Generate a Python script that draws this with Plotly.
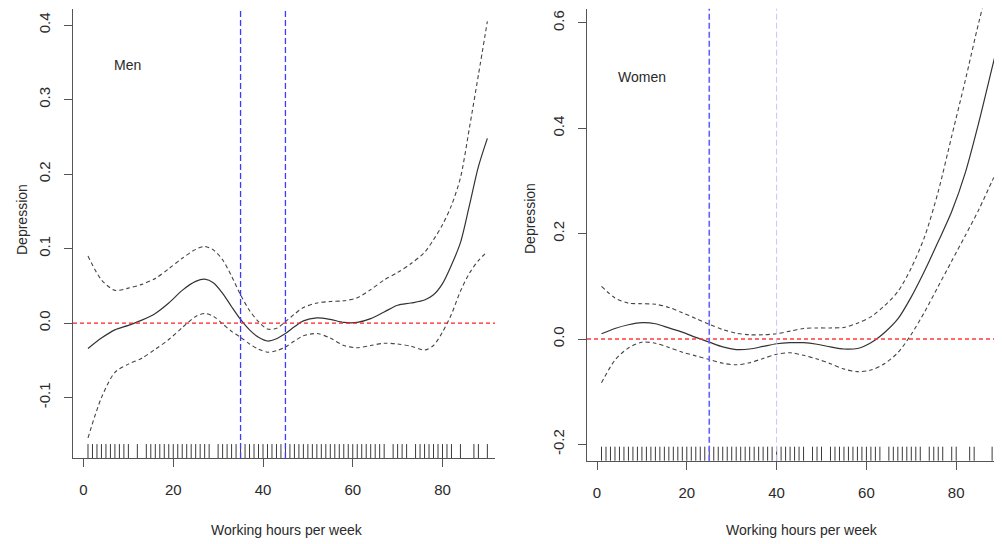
import plotly.graph_objects as go

# ---------------- data ----------------
men_hours = [1, 4, 7, 10, 13, 16, 19, 22, 25, 27, 29, 31, 33, 35, 37, 39, 41, 43, 45, 47,
             49, 52, 55, 58, 61, 64, 67, 70, 73, 76, 78, 80, 82, 84, 86, 88, 90]
men_fit = [-0.034, -0.020, -0.009, -0.003, 0.004, 0.013, 0.027, 0.044, 0.056, 0.059, 0.054,
           0.040, 0.022, 0.005, -0.009, -0.019, -0.024, -0.021, -0.014, -0.005, 0.003, 0.007,
           0.005, 0.001, 0.001, 0.006, 0.015, 0.024, 0.027, 0.031, 0.038, 0.053, 0.078, 0.108,
           0.158, 0.210, 0.248]
men_upper = [0.090, 0.058, 0.044, 0.047, 0.052, 0.060, 0.073, 0.087, 0.099, 0.103, 0.098,
             0.085, 0.063, 0.038, 0.017, 0.002, -0.008, -0.007, 0.002, 0.012, 0.021, 0.027,
             0.029, 0.030, 0.034, 0.045, 0.058, 0.068, 0.080, 0.095, 0.112, 0.132, 0.158, 0.195,
             0.262, 0.333, 0.405]
men_lower = [-0.154, -0.100, -0.066, -0.055, -0.047, -0.035, -0.022, -0.006, 0.009, 0.013,
             0.009, -0.001, -0.011, -0.019, -0.028, -0.035, -0.039, -0.037, -0.032, -0.024,
             -0.017, -0.014, -0.020, -0.030, -0.033, -0.030, -0.027, -0.028, -0.031, -0.036,
             -0.030, -0.012, 0.012, 0.043, 0.067, 0.084, 0.096]
men_rug = [1, 2, 3, 4, 5, 6, 7, 8, 9, 10, 12, 14, 15, 16, 17, 18, 19, 20, 21, 22, 23, 24, 25,
           26, 27, 28, 30, 31, 32, 33, 34, 35, 36, 37, 38, 39, 40, 41, 42, 43, 44, 45, 46, 47,
           48, 49, 50, 51, 52, 53, 54, 55, 56, 57, 58, 59, 60, 61, 62, 63, 64, 65, 66, 67, 69,
           70, 71, 72, 74, 75, 76, 77, 78, 79, 80, 81, 82, 84, 87, 88, 90]
men_cutoffs = [35, 45]

women_hours = [1, 4, 7, 10, 13, 16, 19, 22, 25, 28, 31, 34, 37, 40, 43, 46, 49, 52, 55, 58,
               61, 64, 67, 70, 73, 76, 79, 82, 85, 88, 90]
women_fit = [0.010, 0.020, 0.027, 0.031, 0.029, 0.021, 0.013, 0.003, -0.006, -0.015, -0.020,
             -0.019, -0.014, -0.009, -0.007, -0.007, -0.010, -0.015, -0.019, -0.018, -0.007,
             0.012, 0.038, 0.080, 0.130, 0.185, 0.242, 0.315, 0.410, 0.515, 0.585]
women_upper = [0.100, 0.078, 0.068, 0.067, 0.066, 0.060, 0.050, 0.039, 0.028, 0.018, 0.011,
               0.008, 0.008, 0.010, 0.015, 0.020, 0.021, 0.021, 0.022, 0.030, 0.042, 0.063,
               0.090, 0.135, 0.195, 0.280, 0.385, 0.490, 0.600, 0.700, 0.760]
women_lower = [-0.083, -0.040, -0.017, -0.006, -0.008, -0.016, -0.025, -0.032, -0.039, -0.046,
               -0.049, -0.045, -0.037, -0.029, -0.026, -0.031, -0.038, -0.047, -0.057, -0.062,
               -0.059, -0.047, -0.026, 0.009, 0.052, 0.100, 0.148, 0.196, 0.245, 0.300, 0.336]
women_rug = [1, 2, 3, 4, 5, 6, 7, 8, 9, 10, 11, 12, 13, 14, 15, 16, 17, 18, 19, 20, 21, 22,
             23, 24, 25, 26, 27, 28, 29, 30, 31, 32, 33, 34, 35, 36, 37, 38, 39, 40, 41, 42,
             43, 44, 45, 46, 48, 49, 50, 52, 53, 54, 55, 56, 57, 58, 59, 60, 61, 62, 63, 65,
             66, 67, 68, 69, 70, 71, 72, 74, 75, 76, 77, 79, 80, 83, 84, 88]
women_cutoffs = [25, 40]

x_ticks = [0, 20, 40, 60, 80]
men_y_ticks = [-0.1, 0.0, 0.1, 0.2, 0.3, 0.4]
men_y_labels = ["-0.1", "0.0", "0.1", "0.2", "0.3", "0.4"]
women_y_ticks = [-0.2, 0.0, 0.2, 0.4, 0.6]
women_y_labels = ["-0.2", "0.0", "0.2", "0.4", "0.6"]

# ---------------- layout geometry ----------------
# The page body has an 8px margin, so the figure is drawn at (8, 8) of the window.
OFF = 8
W, H = 1002 - OFF, 544 - OFF


def px_x(p):
    return (p - OFF) / W


def px_y(p):
    return 1 - (p - OFF) / H


# ---------------- styling ----------------
FONT = "Liberation Sans, Arial, sans-serif"
TXT = "#2a2a2a"
AX = "#555555"
fit_line = dict(color="#333333", width=1.2)
ci_line = dict(color="#444444", width=1.1, dash="4px,3px")

fig = go.Figure()

for xa, ya, hrs, fit, up, lo in [("x", "y", men_hours, men_fit, men_upper, men_lower),
                                 ("x2", "y2", women_hours, women_fit, women_upper, women_lower)]:
    fig.add_trace(go.Scatter(x=hrs, y=up, mode="lines", line=ci_line, line_shape="spline",
                             line_smoothing=0.8, xaxis=xa, yaxis=ya, showlegend=False,
                             hoverinfo="skip"))
    fig.add_trace(go.Scatter(x=hrs, y=lo, mode="lines", line=ci_line, line_shape="spline",
                             line_smoothing=0.8, xaxis=xa, yaxis=ya, showlegend=False,
                             hoverinfo="skip"))
    fig.add_trace(go.Scatter(x=hrs, y=fit, mode="lines", line=fit_line, line_shape="spline",
                             line_smoothing=0.8, xaxis=xa, yaxis=ya, showlegend=False))

shapes = []
# rugs
for xr, yr, rug in [("x", "y domain", men_rug), ("x2", "y2 domain", women_rug)]:
    for h in rug:
        shapes.append(dict(type="line", xref=xr, yref=yr, x0=h, x1=h, y0=0, y1=0.031,
                           line=dict(color="#3a3a3a", width=1), layer="below"))
# zero reference lines
shapes.append(dict(type="line", xref="paper", yref="y", x0=px_x(73), x1=px_x(495), y0=0, y1=0,
                   layer="above", line=dict(color="#ff2020", width=1.2, dash="4px,3px")))
shapes.append(dict(type="line", xref="paper", yref="y2", x0=px_x(587), x1=1.0, y0=0, y1=0,
                   layer="above", line=dict(color="#ff3b3b", width=1.6, dash="4px,3px")))
# cut-off lines
for h in men_cutoffs:
    shapes.append(dict(type="line", xref="x", yref="y domain", x0=h, x1=h, y0=0, y1=1,
                       line=dict(color="#3c3cff", width=1.3, dash="6px,3px")))
shapes.append(dict(type="line", xref="x2", yref="y2 domain", x0=women_cutoffs[0], x1=women_cutoffs[0],
                   y0=0, y1=1, line=dict(color="#6262ff", width=1.6, dash="6px,3px")))
shapes.append(dict(type="line", xref="x2", yref="y2 domain", x0=women_cutoffs[1], x1=women_cutoffs[1],
                   y0=0, y1=1, line=dict(color="#c4c4ff", width=1, dash="6px,3px")))

lbl = dict(showarrow=False, xanchor="center", yanchor="middle",
           font=dict(family=FONT, size=14, color=TXT))
annotations = [
    dict(text="Men", x=9.9, y=0.346, xref="x", yref="y", **lbl),
    dict(text="Women", x=10.0, y=0.498, xref="x2", yref="y2", **lbl),
    dict(text="Working hours per week", x=px_x(287), y=px_y(530), xref="paper", yref="paper", **lbl),
    dict(text="Working hours per week", x=px_x(802), y=px_y(530), xref="paper", yref="paper", **lbl),
    dict(text="Depression", x=px_x(22), y=px_y(220), xref="paper", yref="paper", textangle=-90, **lbl),
    dict(text="Depression", x=px_x(530), y=px_y(219), xref="paper", yref="paper", textangle=-90, **lbl),
]

common_x = dict(showline=True, linecolor=AX, linewidth=1, ticks="outside", ticklen=8,
                tickcolor=AX, tickwidth=1, showgrid=False, zeroline=False, tickvals=x_ticks,
                automargin=False,
                tickfont=dict(family=FONT, size=15, color=TXT), ticklabelstandoff=10)
common_y = dict(showline=True, linecolor=AX, linewidth=1, ticks="outside", ticklen=8,
                tickcolor=AX, tickwidth=1, showgrid=False, zeroline=False, tickangle=-90,
                automargin=False,
                tickfont=dict(family=FONT, size=15, color=TXT), ticklabelstandoff=8)

fig.update_layout(
    width=W, height=H,
    margin=dict(l=0, r=0, t=0, b=0),
    paper_bgcolor="white", plot_bgcolor="white",
    shapes=shapes, annotations=annotations,
    xaxis=dict(domain=[px_x(73), px_x(495)], range=[-2.34, 91.7], anchor="y", **common_x),
    yaxis=dict(domain=[px_y(458), px_y(8.7)], range=[-0.181, 0.422], anchor="x",
               tickvals=men_y_ticks, ticktext=men_y_labels, **common_y),
    xaxis2=dict(domain=[px_x(587), 1.0], range=[-2.23, 90.2], anchor="y2", **common_x),
    yaxis2=dict(domain=[px_y(460.7), px_y(8.7)], range=[-0.231, 0.627], anchor="x2",
                tickvals=women_y_ticks, ticktext=women_y_labels, **common_y),
)

fig.write_html("out.html")
